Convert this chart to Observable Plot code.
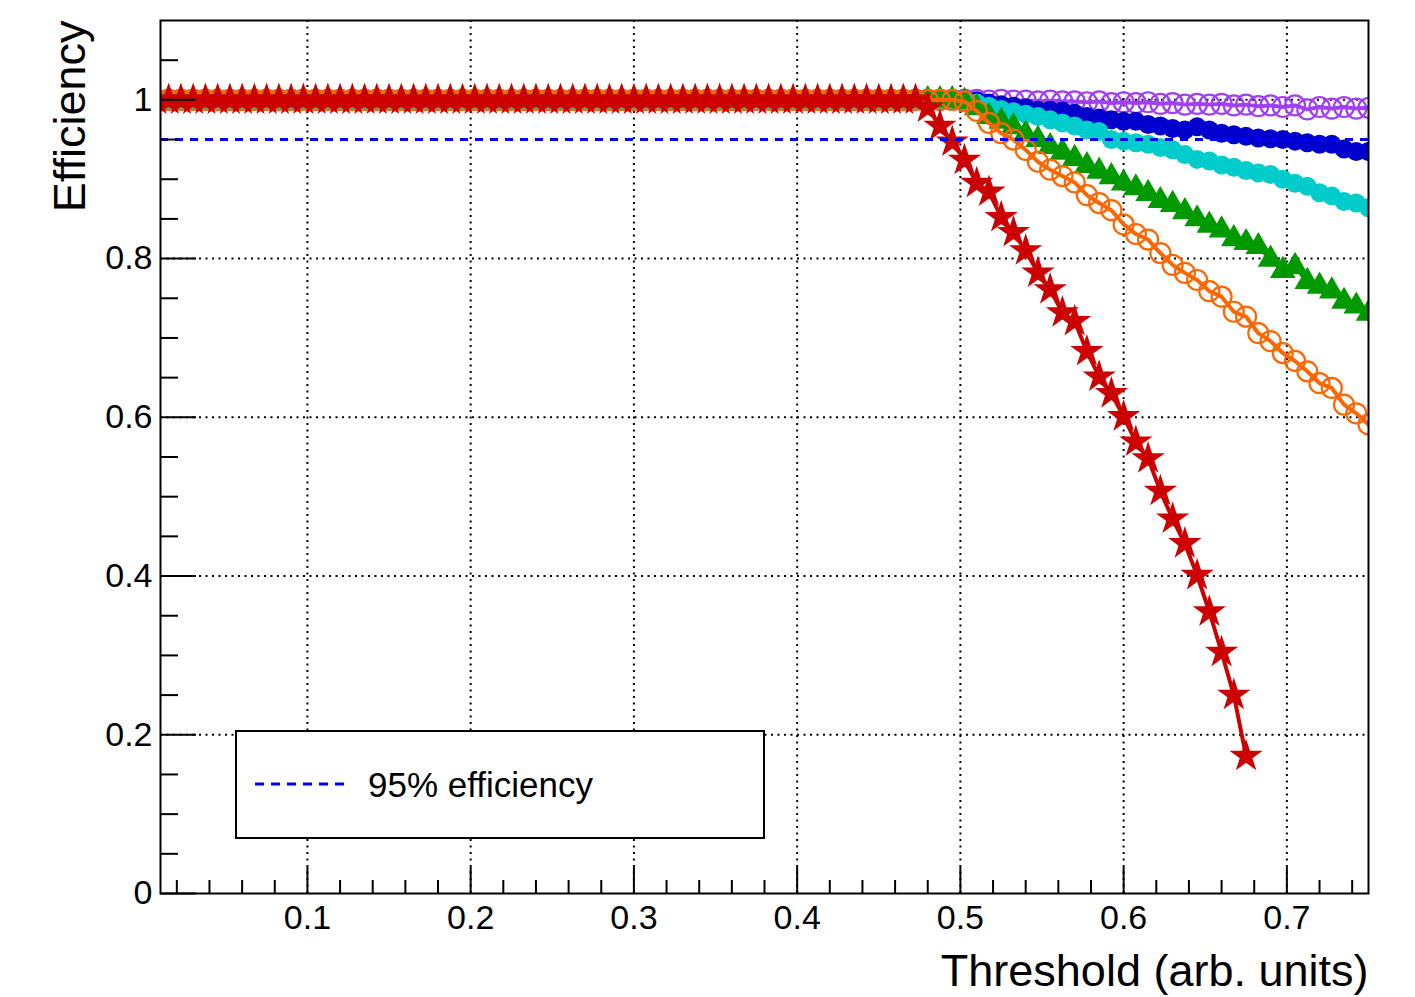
<!DOCTYPE html>
<html>
<head>
<meta charset="utf-8">
<script src="https://cdn.jsdelivr.net/npm/d3@7"></script>
<script src="https://cdn.jsdelivr.net/npm/@observablehq/plot@0.6"></script>
<style>
  body { margin: 0; background: #fff; }
  #wrap { position: relative; width: 1415px; height: 997px; font-family: "Liberation Sans", Arial, Helvetica, sans-serif; }
  #legend { position: absolute; left: 235px; top: 730px; width: 530px; height: 109px; box-sizing: border-box;
            border: 2px solid #000; background: #fff; }
  #legend svg { position: absolute; left: 0; top: 0; }
</style>
</head>
<body>
<div id="wrap"><div id="chart"></div>
  <div id="legend">
    <svg width="526" height="105">
      <line x1="18" x2="110" y1="52" y2="52" stroke="#0000ff" stroke-width="3" stroke-dasharray="9,7"></line>
      <text x="131" y="65" font-size="35" font-family="Liberation Sans, Arial, sans-serif" fill="#000">95% efficiency</text>
    </svg>
  </div>
</div>
<script>
// Threshold values (x) of the measured points
const thresholds = [
  0.0075,0.015,0.0225,0.03,0.0375,0.045,0.0525,0.06,0.0675,0.075,
  0.0825,0.09,0.0975,0.105,0.1125,0.12,0.1275,0.135,0.1425,0.15,
  0.1575,0.165,0.1725,0.18,0.1875,0.195,0.2025,0.21,0.2175,0.225,
  0.2325,0.24,0.2475,0.255,0.2625,0.27,0.2775,0.285,0.2925,0.3,
  0.3075,0.315,0.3225,0.33,0.3375,0.345,0.3525,0.36,0.3675,0.375,
  0.3825,0.39,0.3975,0.405,0.4125,0.42,0.4275,0.435,0.4425,0.45,
  0.4575,0.465,0.4725,0.48,0.4875,0.495,0.5025,0.51,0.5175,0.525,
  0.5325,0.54,0.5475,0.555,0.5625,0.57,0.5775,0.585,0.5925,0.6,
  0.6075,0.615,0.6225,0.63,0.6375,0.645,0.6525,0.66,0.6675,0.675,
  0.6825,0.69,0.6975,0.705,0.7125,0.72,0.7275,0.735,0.7425,0.75
];

// Efficiency series
const effViolet = [
  1,1,1,1,1,1,1,1,1,1, 1,1,1,1,1,1,1,1,1,1, 1,1,1,1,1,1,1,1,1,1,
  1,1,1,1,1,1,1,1,1,1, 1,1,1,1,1,1,1,1,1,1, 1,1,1,1,1,1,1,1,1,1,
  1,1,1,1,1,1,1,1,0.999,1,
  0.999,0.999,0.998,0.999,0.998,0.998,0.997,0.998,0.996,0.997,
  0.996,0.997,0.995,0.996,0.994,0.995,0.994,0.995,0.993,0.994,
  0.992,0.993,0.991,0.993,0.988,0.991,0.989,0.991,0.989,0.99
];
const effBlue = [
  1,1,1,1,1,1,1,1,1,1, 1,1,1,1,1,1,1,1,1,1, 1,1,1,1,1,1,1,1,1,1,
  1,1,1,1,1,1,1,1,1,1, 1,1,1,1,1,1,1,1,1,1, 1,1,1,1,1,1,1,1,1,1,
  1,1,1,1,1,1,1,0.999,0.996,0.994,
  0.992,0.99,0.987,0.987,0.986,0.983,0.979,0.977,0.975,0.973,
  0.973,0.969,0.967,0.964,0.962,0.966,0.962,0.958,0.956,0.954,
  0.952,0.951,0.95,0.948,0.946,0.944,0.944,0.938,0.935,0.935
];
const effCyan = [
  1,1,1,1,1,1,1,1,1,1, 1,1,1,1,1,1,1,1,1,1, 1,1,1,1,1,1,1,1,1,1,
  1,1,1,1,1,1,1,1,1,1, 1,1,1,1,1,1,1,1,1,1, 1,1,1,1,1,1,1,1,1,1,
  1,1,1,1,1,1,0.999,0.996,0.992,0.988,
  0.985,0.982,0.979,0.975,0.971,0.967,0.962,0.96,0.95,0.948,
  0.946,0.944,0.94,0.937,0.931,0.925,0.923,0.918,0.915,0.911,
  0.908,0.906,0.9,0.895,0.891,0.883,0.879,0.872,0.87,0.864
];
const effGreen = [
  1,1,1,1,1,1,1,1,1,1, 1,1,1,1,1,1,1,1,1,1, 1,1,1,1,1,1,1,1,1,1,
  1,1,1,1,1,1,1,1,1,1, 1,1,1,1,1,1,1,1,1,1, 1,1,1,1,1,1,1,1,1,1,
  1,1,1,1,1,1,0.998,0.99,0.979,0.973,
  0.966,0.957,0.95,0.941,0.934,0.926,0.917,0.91,0.903,0.895,
  0.889,0.882,0.873,0.868,0.859,0.85,0.842,0.836,0.825,0.82,
  0.815,0.799,0.785,0.79,0.771,0.765,0.759,0.746,0.74,0.731
];
const effOrange = [
  1,1,1,1,1,1,1,1,1,1, 1,1,1,1,1,1,1,1,1,1, 1,1,1,1,1,1,1,1,1,1,
  1,1,1,1,1,1,1,1,1,1, 1,1,1,1,1,1,1,1,1,1, 1,1,1,1,1,1,1,1,1,1,
  1,1,1,1,1,1,0.998,0.986,0.971,0.958,
  0.95,0.937,0.922,0.912,0.904,0.896,0.88,0.87,0.861,0.843,
  0.831,0.824,0.807,0.792,0.782,0.773,0.759,0.752,0.733,0.727,
  0.706,0.696,0.681,0.671,0.658,0.643,0.637,0.616,0.605,0.591
];
const effRed = [
  1,1,1,1,1,1,1,1,1,1, 1,1,1,1,1,1,1,1,1,1, 1,1,1,1,1,1,1,1,1,1,
  1,1,1,1,1,1,1,1,1,1, 1,1,1,1,1,1,1,1,1,1, 1,1,1,1,1,1,1,1,1,1,
  1,1,1,0.99,0.967,0.947,0.924,0.895,0.884,0.852,
  0.833,0.81,0.782,0.761,0.732,0.721,0.683,0.651,0.63,0.601,
  0.569,0.548,0.507,0.472,0.441,0.401,0.355,0.304,0.25,0.173
];

const refLevel = [0.95];
const xMajor = [0.1, 0.2, 0.3, 0.4, 0.5, 0.6, 0.7];
const xMinor = [0.02,0.04,0.06,0.08,0.12,0.14,0.16,0.18,0.22,0.24,0.26,0.28,0.32,0.34,0.36,0.38,
                0.42,0.44,0.46,0.48,0.52,0.54,0.56,0.58,0.62,0.64,0.66,0.68,0.72,0.74];
const yMajor = [0, 0.2, 0.4, 0.6, 0.8, 1];
const yGrid = [0.2, 0.4, 0.6, 0.8, 1];
const yMinor = [0.05,0.1,0.15,0.25,0.3,0.35,0.45,0.5,0.55,0.65,0.7,0.75,0.85,0.9,0.95,1.05];

const series = [
  {values: effViolet, color: "#a03ff5", symbol: "circle", fill: "none", r: 10, sw: 2.2},
  {values: effBlue,   color: "#0000cc", symbol: "circle", fill: "solid", r: 9.5, sw: 0},
  {values: effCyan,   color: "#00cccc", symbol: "circle", fill: "solid", r: 9.5, sw: 0},
  {values: effGreen,  color: "#009900", symbol: "triangle", fill: "solid", r: 9.5, sw: 0},
  {values: effOrange, color: "#ff6600", symbol: "circle", fill: "none", r: 10, sw: 2.2},
  {values: effRed,    color: "#cc0000", symbol: "star", fill: "solid", r: 9, sw: 1.5}
];

const seriesMarks = series.flatMap(s => {
  const rows = s.values.map((v, i) => ({x: thresholds[i], y: v}));
  return [
    Plot.line(rows, {x: "x", y: "y", stroke: s.color, strokeWidth: 4, clip: true}),
    Plot.dot(rows, {x: "x", y: "y", symbol: s.symbol, r: s.r, clip: true,
      fill: s.fill === "none" ? "none" : s.color,
      stroke: s.sw > 0 ? s.color : "none",
      strokeWidth: s.sw})
  ];
});

const fontFam = "Liberation Sans, Arial, Helvetica, sans-serif";
const fmt = d => String(d);

const chart = Plot.plot({
  width: 1415, height: 997,
  marginLeft: 160, marginRight: 47, marginTop: 20, marginBottom: 104,
  style: {fontFamily: fontFam, fontSize: "33px", color: "#000", background: "#fff"},
  x: {domain: [0.01, 0.75]},
  y: {domain: [0, 1.1]},
  marks: [
    Plot.gridX(xMajor, {stroke: "#000", strokeOpacity: 1, strokeWidth: 2, strokeDasharray: "2,4.5"}),
    Plot.gridY(yGrid, {stroke: "#000", strokeOpacity: 1, strokeWidth: 2, strokeDasharray: "2,4.5"}),
    ...seriesMarks,
    Plot.ruleY(refLevel, {stroke: "#0000ff", strokeWidth: 3, strokeDasharray: "8,7"}),
    Plot.frame({stroke: "#000", strokeWidth: 2}),
    Plot.axisX(xMajor, {tickSize: -26, fill: "none", label: null, stroke: "#000", strokeWidth: 2}),
    Plot.axisX(xMinor, {tickSize: -13, fill: "none", label: null, stroke: "#000", strokeWidth: 2}),
    Plot.axisX(xMajor, {tickSize: 0, tickPadding: 11, fontSize: 34, label: null, fill: "#000", tickFormat: fmt}),
    Plot.axisY(yMajor, {tickSize: -36, fill: "none", label: null, stroke: "#000", strokeWidth: 2}),
    Plot.axisY(yMinor, {tickSize: -18, fill: "none", label: null, stroke: "#000", strokeWidth: 2}),
    Plot.axisY(yMajor, {tickSize: 0, tickPadding: 8, fontSize: 34, label: null, fill: "#000", tickFormat: fmt}),
    Plot.text(["Threshold (arb. units)"], {frameAnchor: "bottom-right", textAnchor: "end", dy: 92, fontSize: 45, fill: "#000"}),
    Plot.text(["Efficiency"], {frameAnchor: "top-left", textAnchor: "end", rotate: -90, dx: -107, fontSize: 45, fill: "#000"})
  ]
});
document.getElementById("chart").appendChild(chart);
</script>
</body>
</html>
